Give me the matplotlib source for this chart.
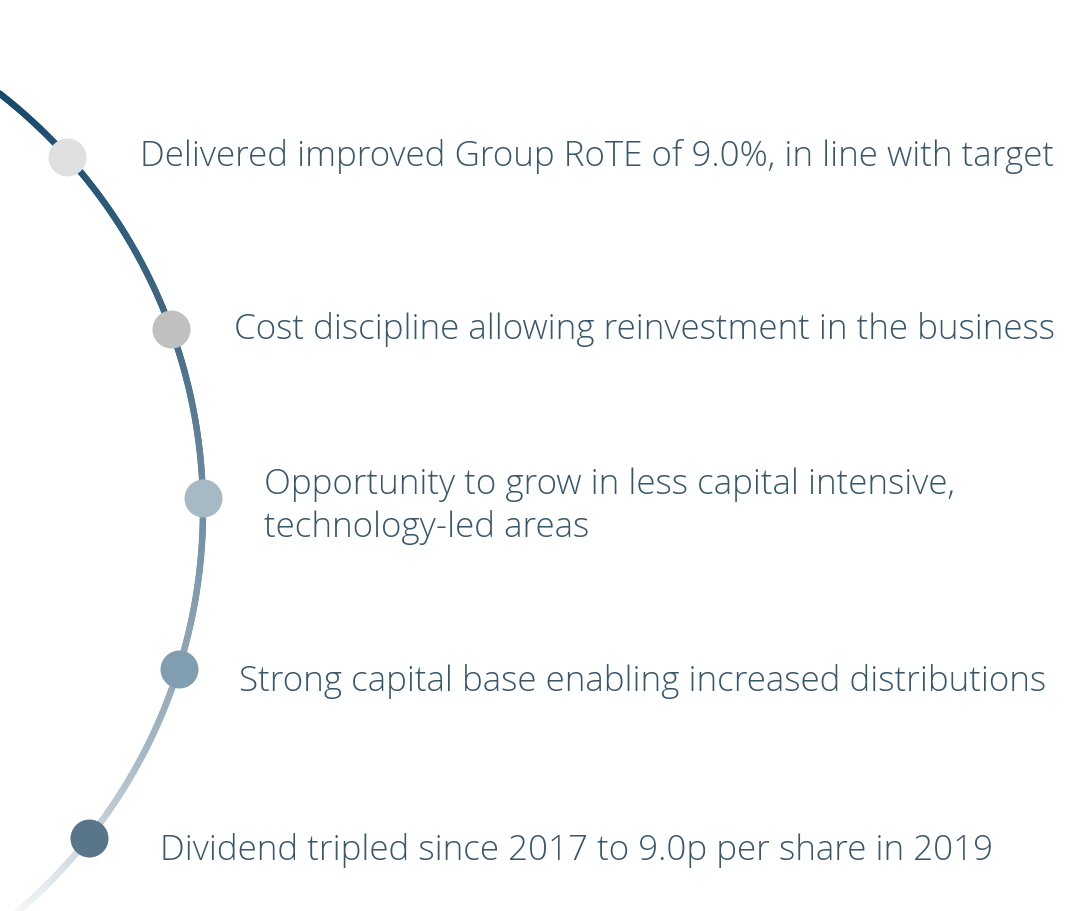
import numpy as np
import matplotlib
matplotlib.use("Agg")
import matplotlib.pyplot as plt
from matplotlib.collections import LineCollection
from matplotlib.colors import LinearSegmentedColormap

# labels along the arc, top to bottom
labels = [
    "Delivered improved Group RoTE of 9.0%, in line with target",
    "Cost discipline allowing reinvestment in the business",
    "Opportunity to grow in less capital intensive,\ntechnology-led areas",
    "Strong capital base enabling increased distributions",
    "Dividend tripled since 2017 to 9.0p per share in 2019",
]
# angle (degrees) of each dot on the arc
dot_angles = [42.0, 20.0, 1.3, -17.5, -38.4]
dot_colors = ["#e0e0e0", "#c0c0c0", "#a6b9c5", "#819eb0", "#587589"]

# layout (pixels); baseline = baseline of the last line of each label
W, H = 1074, 911
CX, CY, R = -325, 510, 528
text_left = [140, 234, 264, 239, 160]
text_baseline = [166, 339, 537, 691, 860]
TEXT_COLOR = "#37576d"

fig = plt.figure(figsize=(W / 100, H / 100), dpi=100)
ax = fig.add_axes([0, 0, 1, 1])
ax.set_xlim(0, W)
ax.set_ylim(H, 0)
ax.axis("off")

# gradient arc
t = np.radians(np.linspace(53, -50, 500))
xs = CX + R * np.cos(t)
ys = CY - R * np.sin(t)
pts = np.column_stack([xs, ys]).reshape(-1, 1, 2)
segs = np.concatenate([pts[:-1], pts[1:]], axis=1)
cmap = LinearSegmentedColormap.from_list(
    "arc", [(0, "#15486b"), (0.3, "#3f6785"), (0.55, "#7893a7"),
            (0.78, "#a4b7c4"), (0.92, "#d3dde3"), (1, "#f5f7f8")])
lc = LineCollection(segs, cmap=cmap, linewidth=4.6, capstyle="round")
lc.set_array(np.linspace(0, 1, len(segs)))
ax.add_collection(lc)

for ang, col in zip(dot_angles, dot_colors):
    a = np.radians(ang)
    x = CX + R * np.cos(a)
    y = CY - R * np.sin(a)
    ax.scatter([x], [y], s=(38 * 0.72) ** 2, color=col, zorder=3, linewidths=0)

for label, tx, ty in zip(labels, text_left, text_baseline):
    ax.text(tx, ty, label, fontsize=25.2, color=TEXT_COLOR,
            family="Open Sans", fontweight="light", va="baseline", ha="left",
            linespacing=1.30)

fig.savefig("out.png", dpi=100)
